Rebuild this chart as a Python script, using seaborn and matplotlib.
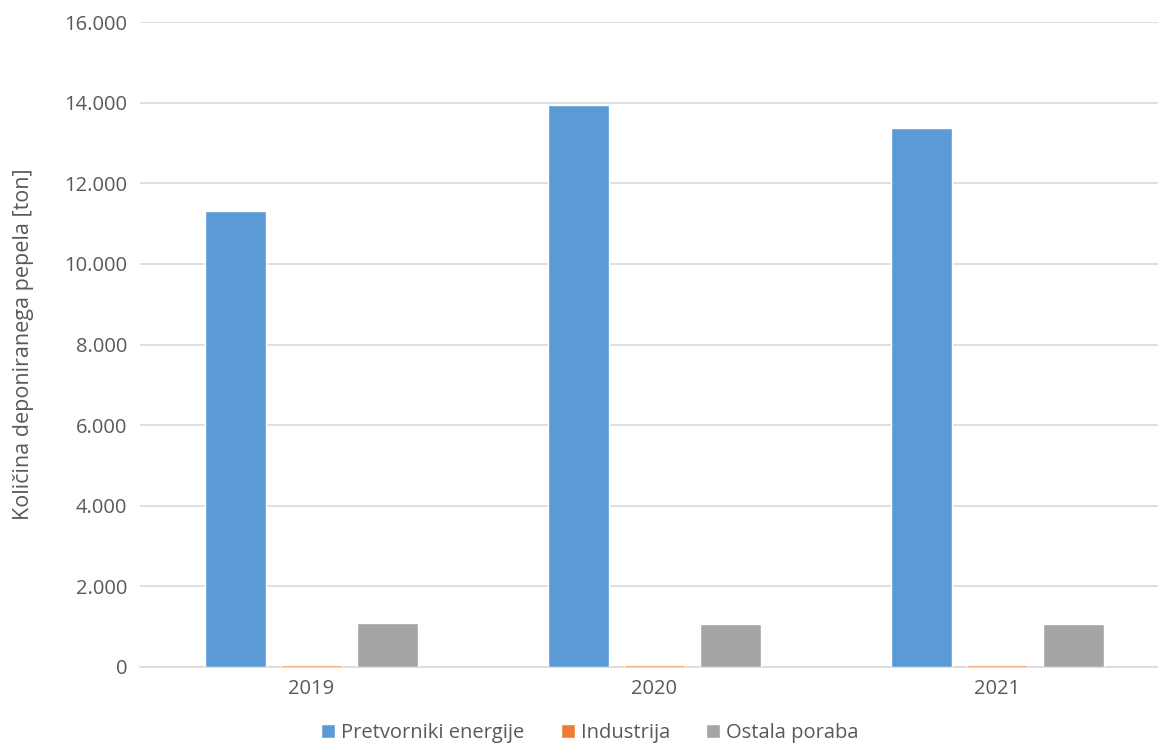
import pandas as pd
import matplotlib.pyplot as plt
import seaborn as sns
from matplotlib.ticker import FuncFormatter, MultipleLocator

# podatki
leta = ['2019', '2020', '2021']
pretvorniki = [11300, 13950, 13380]
industrija = [40, 40, 40]
ostala = [1090, 1070, 1070]
serije = ['Pretvorniki energije', 'Industrija', 'Ostala poraba']
barve = ['#5B9BD5', '#ED7D31', '#A5A5A5']

df = pd.DataFrame({
    'leto': leta * 3,
    'serija': [serije[0]] * 3 + [serije[1]] * 3 + [serije[2]] * 3,
    'vrednost': pretvorniki + industrija + ostala,
})

sns.set_theme(style="white")
plt.rcParams['font.family'] = ['Open Sans', 'DejaVu Sans']
TXT = '#595959'

fig = plt.figure(figsize=(11.58, 7.45), dpi=100)
ax = fig.add_axes([140 / 1158, 1 - 667 / 745, 1029 / 1158, (667 - 22) / 745])

sns.barplot(data=df, x='leto', y='vrednost', hue='serija', palette=barve,
            width=0.665, gap=0.21, ax=ax, legend=True, saturation=1)

ax.set_ylim(0, 16000)
ax.yaxis.set_major_locator(MultipleLocator(2000))
ax.yaxis.set_major_formatter(FuncFormatter(lambda v, p: f"{int(v):,}".replace(',', '.')))
ax.grid(axis='y', color='#D9D9D9', linewidth=1.2)
ax.set_axisbelow(True)
for s in ['top', 'right', 'left']:
    ax.spines[s].set_visible(False)
ax.spines['bottom'].set_color('#D9D9D9')
ax.spines['bottom'].set_linewidth(1.2)
ax.spines['bottom'].set_zorder(0.5)
ax.tick_params(axis='both', length=0, labelsize=14.5, labelcolor=TXT, pad=9)
ax.set_xlabel('')
ax.set_ylabel('Količina deponiranega pepela [ton]', fontsize=15.5, color=TXT)
ax.yaxis.set_label_coords(-(140 - 34) / 1029, 0.5)

h, l = ax.get_legend_handles_labels()
ax.get_legend().remove()
fig.legend(h, l, loc='center', bbox_to_anchor=(590 / 1158, 1 - 733 / 745), ncol=3,
           frameon=False, fontsize=14.5, labelcolor=TXT, handlelength=0.7,
           handleheight=0.7, handletextpad=0.3, columnspacing=1.8)

plt.savefig('out.png', dpi=100)
